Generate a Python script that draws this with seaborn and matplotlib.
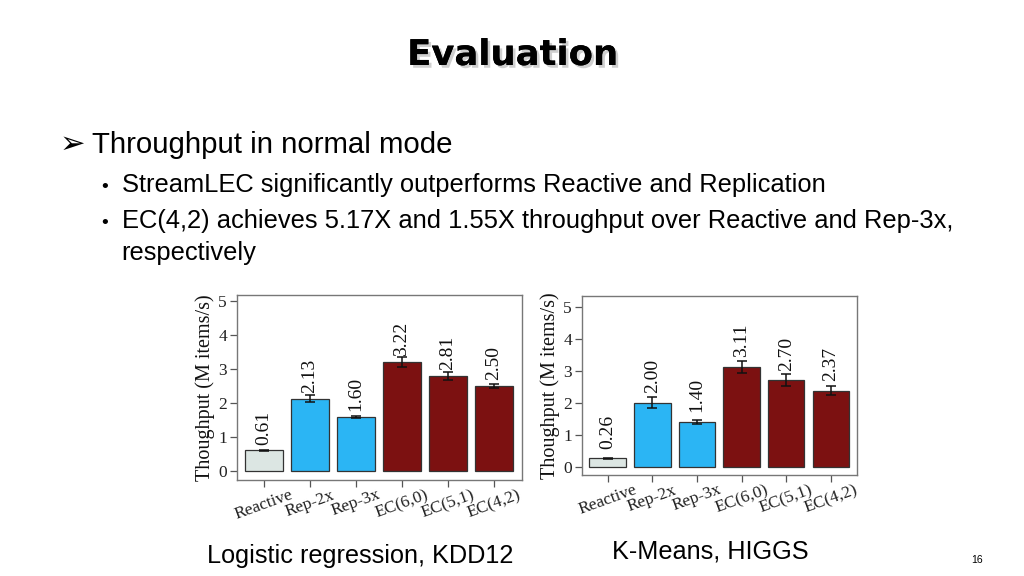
import matplotlib
matplotlib.use("Agg")
import matplotlib.pyplot as plt
import matplotlib.patheffects as pe
import seaborn as sns
import pandas as pd
import numpy as np

# ---------------- data ----------------
categories = ["Reactive", "Rep-2x", "Rep-3x", "EC(6,0)", "EC(5,1)", "EC(4,2)"]
kdd12_values = [0.61, 2.13, 1.60, 3.22, 2.81, 2.50]
kdd12_errors = [0.01, 0.10, 0.03, 0.15, 0.12, 0.06]
higgs_values = [0.26, 2.00, 1.40, 3.11, 2.70, 2.37]
higgs_errors = [0.02, 0.18, 0.07, 0.20, 0.18, 0.14]
yticks = [0, 1, 2, 3, 4, 5]
ylabel = "Thoughput (M items/s)"
title = "Evaluation"
heading = "Throughput in normal mode"
bullets = ["StreamLEC significantly outperforms Reactive and Replication",
           "EC(4,2) achieves 5.17X and 1.55X throughput over Reactive and Rep-3x,",
           "respectively"]
caption_left = "Logistic regression, KDD12"
caption_right = "K-Means, HIGGS"
page_number = "16"

bar_colors = ["#dce6e3", "#2bb5f4", "#2bb5f4", "#7c1111", "#7c1111", "#7c1111"]

sns.set_theme(style="white")
plt.rcParams["font.family"] = ["Liberation Sans", "DejaVu Sans"]

W, H = 1024, 576
fig = plt.figure(figsize=(W / 100, H / 100), dpi=100)
fig.patch.set_facecolor("white")


def px_axes(x0, y0, x1, y1):
    return fig.add_axes([x0 / W, 1 - y1 / H, (x1 - x0) / W, (y1 - y0) / H])


def draw_chart(ax, values, errors, ylim, xlim, label_off, ylabel_pad):
    df = pd.DataFrame({"cat": categories, "val": values})
    sns.barplot(data=df, x="cat", y="val", hue="cat", palette=bar_colors,
                order=categories, hue_order=categories, legend=False,
                width=0.82, edgecolor="#333333", linewidth=0.9,
                saturation=1, errorbar=None, ax=ax)
    ax.errorbar(np.arange(len(values)), values, yerr=errors, fmt="none",
                ecolor="#111111", elinewidth=1.1, capsize=3.5, capthick=1.1,
                zorder=5)
    for i, v in enumerate(values):
        ax.text(i, v + label_off, f"{v:.2f}", rotation=90, ha="center",
                va="center", fontsize=14, family="Liberation Serif",
                color="#111111")
    ax.set_ylim(*ylim)
    ax.set_xlim(*xlim)
    ax.set_yticks(yticks)
    ax.set_yticklabels([str(t) for t in yticks], family="Liberation Serif",
                       fontsize=12.5, color="#222222")
    ax.set_xticks(range(len(categories)))
    ax.set_xticklabels(categories, rotation=20, ha="center",
                       family="Liberation Serif", fontsize=12.5,
                       color="#222222")
    ax.set_xlabel("")
    ax.set_ylabel(ylabel, family="Liberation Serif", fontsize=14.5,
                  color="#111111", labelpad=ylabel_pad)
    ax.tick_params(axis="both", which="both", direction="out", length=5,
                   width=0.9, color="#555555", left=True, bottom=True,
                   pad=2)
    ax.tick_params(axis="x", pad=0)
    for lbl in ax.get_xticklabels():
        lbl.set_x(lbl.get_position()[0])
    for s in ax.spines.values():
        s.set_visible(True)
        s.set_color("#777777")
        s.set_linewidth(1.0)
    ax.set_facecolor("white")


ax1 = px_axes(236.7, 295, 521.7, 480)
draw_chart(ax1, kdd12_values, kdd12_errors, (-0.26, 5.18), (-0.59, 5.6),
           0.67, 2)

ax2 = px_axes(581.7, 296, 856.7, 475)
draw_chart(ax2, higgs_values, higgs_errors, (-0.26, 5.33), (-0.58, 5.58),
           0.83, 2)

# ---------------- slide text ----------------
def ftext(x, y, s, **kw):
    fig.text(x / W, 1 - y / H, s, **kw)

ftext(512.5, 65, title, ha="center", va="baseline", fontsize=25.5,
      fontweight="bold", family="DejaVu Sans", color="black",
      path_effects=[pe.withSimplePatchShadow(offset=(2, -2),
                                             shadow_rgbFace="#b0b0b0",
                                             alpha=0.6), pe.Normal()])

ftext(60, 153, "\u27a2", ha="left", va="baseline", fontsize=22,
      family=["DejaVu Sans"], color="black")
ftext(91.7, 153, heading, ha="left", va="baseline", fontsize=21.2,
      color="black")

bullet_y = [192, 228]
for y, s in zip(bullet_y, bullets[:2]):
    ftext(101, y, "\u2022", ha="left", va="baseline", fontsize=14,
          color="black")
    ftext(121.5, y, s, ha="left", va="baseline", fontsize=18.4,
          color="black")
ftext(121.5, 260, bullets[2], ha="left", va="baseline", fontsize=18.4,
      color="black")

ftext(206.7, 563, caption_left, ha="left", va="baseline", fontsize=18.2,
      color="black")
ftext(611.7, 558, caption_right, ha="left", va="baseline", fontsize=18.2,
      color="black")
ftext(977, 563, page_number, ha="center", va="baseline", fontsize=7.5,
      color="black")

fig.savefig("out.png", dpi=100, facecolor="white")
